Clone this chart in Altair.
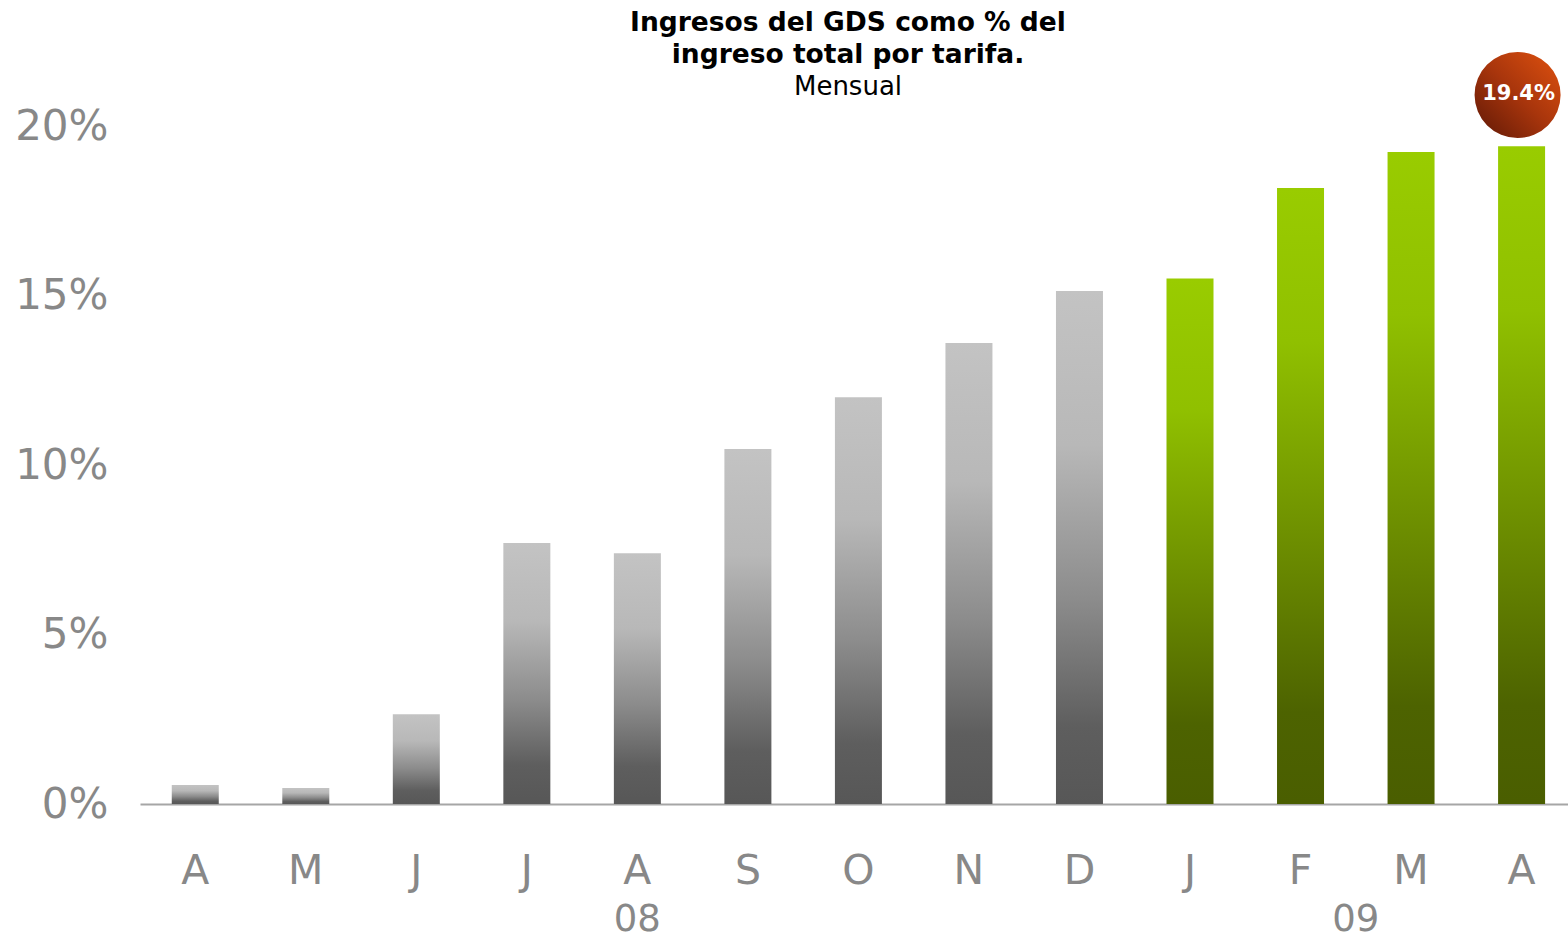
import altair as alt
import pandas as pd

# Monthly share of GDS revenue in total fare revenue (%)
months = ["A", "M", "J", "J", "A", "S", "O", "N", "D", "J", "F", "M", "A"]
years = ["08", "08", "08", "08", "08", "08", "08", "08", "08", "09", "09", "09", "09"]
share = [0.56, 0.47, 2.65, 7.7, 7.4, 10.47, 12.0, 13.6, 15.13, 15.5, 18.17, 19.23, 19.4]

year_labels = ["08", "09"]
year_pos = [4, 10.5]

title_lines = ["Ingresos del GDS como % del", "ingreso total por tarifa."]
subtitle = "Mensual"

df = pd.DataFrame({"i": list(range(len(months))), "mes": months, "anio": years, "valor": share})
df_years = pd.DataFrame({"pos": year_pos, "anio": year_labels})
df_last = df.tail(1)

FONT = "DejaVu Sans"
W, H = 1428, 678

x_scale = alt.Scale(domain=[-0.5, 12.42], nice=False, zero=False, padding=0)
y_scale = alt.Scale(domain=[0, 20], nice=False)

grey_grad = alt.LinearGradient(
    gradient="linear", x1=0, y1=0, x2=0, y2=1,
    stops=[
        alt.GradientStop(offset=0.0, color="#c3c3c3"),
        alt.GradientStop(offset=0.3, color="#b8b8b8"),
        alt.GradientStop(offset=0.6, color="#8c8c8c"),
        alt.GradientStop(offset=0.85, color="#5e5e5e"),
        alt.GradientStop(offset=1.0, color="#575757"),
    ],
)
green_grad = alt.LinearGradient(
    gradient="linear", x1=0, y1=0, x2=0, y2=1,
    stops=[
        alt.GradientStop(offset=0.0, color="#99cc00"),
        alt.GradientStop(offset=0.25, color="#90c000"),
        alt.GradientStop(offset=0.6, color="#6a8a00"),
        alt.GradientStop(offset=0.85, color="#4d6300"),
        alt.GradientStop(offset=1.0, color="#4a5e00"),
    ],
)
badge_grad = alt.LinearGradient(
    gradient="linear", x1=1, y1=0, x2=0, y2=1,
    stops=[
        alt.GradientStop(offset=0.0, color="#e0520f"),
        alt.GradientStop(offset=0.5, color="#a8350c"),
        alt.GradientStop(offset=1.0, color="#5e1806"),
    ],
)

base = alt.Chart(df)

x_enc = alt.X(
    "i:Q", scale=x_scale,
    axis=alt.Axis(labels=False, ticks=False, grid=False, title=None,
                  domain=True, domainColor="#a6a6a6", domainWidth=2),
)
y_enc = alt.Y(
    "valor:Q", scale=y_scale,
    axis=alt.Axis(values=[0, 5, 10, 15, 20], labelExpr="datum.value + '%'",
                  labelFont=FONT, labelFontSize=42, labelColor="#888888",
                  labelPadding=32, ticks=False, grid=False, domain=False, title=None),
)

bars_08 = base.transform_filter(alt.datum.anio == "08").mark_bar(size=47, color=grey_grad).encode(x=x_enc, y=y_enc)
bars_09 = base.transform_filter(alt.datum.anio == "09").mark_bar(size=47, color=green_grad).encode(
    x=alt.X("i:Q", scale=x_scale), y=alt.Y("valor:Q", scale=y_scale)
)

month_text = base.mark_text(font=FONT, fontSize=41, color="#888888", baseline="middle").encode(
    x="i:Q", y=alt.value(H + 68), text="mes:N"
)
year_text = alt.Chart(df_years).mark_text(font=FONT, fontSize=37, color="#888888", baseline="middle").encode(
    x=alt.X("pos:Q", scale=x_scale), y=alt.value(H + 116), text="anio:N"
)

badge = alt.Chart(df_last).mark_point(shape="circle", filled=True, size=7400, fill=badge_grad, opacity=1, strokeWidth=0).encode(
    x=alt.X("i:Q", scale=x_scale), y=alt.value(-31), xOffset=alt.value(-4)
)
badge_text = alt.Chart(df_last).transform_calculate(
    lbl="format(datum.valor, '.1f') + '%'"
).mark_text(font=FONT, fontSize=21, fontWeight="bold", color="white", baseline="middle", dx=-3).encode(
    x=alt.X("i:Q", scale=x_scale), y=alt.value(-32), text="lbl:N"
)

# Heading: two bold lines plus a plain subtitle, centred above the plot
title_marks = []
for line, ypos, weight, fsize in [
    (title_lines[0], -95, "bold", 26.5),
    (title_lines[1], -63, "bold", 26.5),
    (subtitle, -31, "normal", 26),
]:
    title_marks.append(
        alt.Chart(pd.DataFrame({"t": [line]})).mark_text(
            font=FONT, fontSize=fsize, fontWeight=weight, color="black",
            baseline="alphabetic", align="center",
        ).encode(x=alt.value(708), y=alt.value(ypos), text="t:N")
    )

chart = alt.layer(bars_08, bars_09, month_text, year_text, badge, badge_text, *title_marks).properties(
    width=W, height=H,
    autosize=alt.AutoSizeParams(type="none"),
    padding={"left": 140, "top": 126, "right": 0, "bottom": 134},
    background="white",
).configure_view(stroke=None)

chart.save("out.html", embed_options={"renderer": "svg", "actions": False})
